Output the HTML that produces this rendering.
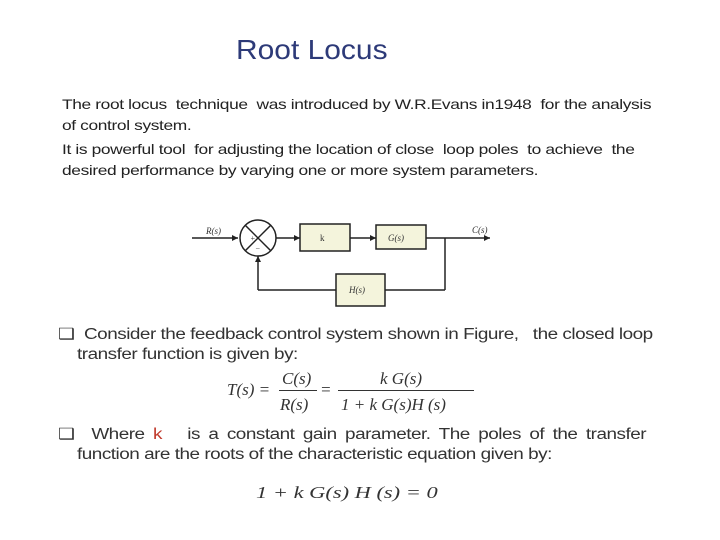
<!DOCTYPE html>
<html><head><style>
body{margin:0;width:720px;height:540px;background:#fff;position:relative;overflow:hidden;font-family:"Liberation Sans",sans-serif}
.t{position:absolute;white-space:nowrap;transform-origin:0 0}
.p{font-size:14px;color:#222;letter-spacing:-0.3px;transform:scaleX(1.24)}
.b{font-size:15.5px;color:#333;letter-spacing:-0.4px;transform:scaleX(1.22)}
.m{font-family:"Liberation Serif",serif;font-style:italic;color:#333;font-size:17px}
</style></head><body>
<div class="t" style="left:236px;top:34px;font-size:28px;color:#2d3a78;transform:scaleX(1.07)">Root Locus</div>
<div class="t p" style="left:62px;top:96px">The root locus &nbsp;technique &nbsp;was introduced by W.R.Evans in1948 &nbsp;for the analysis</div>
<div class="t p" style="left:62px;top:117px">of control system.</div>
<div class="t p" style="left:62px;top:141px">It is powerful tool &nbsp;for adjusting the location of close &nbsp;loop poles &nbsp;to achieve &nbsp;the</div>
<div class="t p" style="left:62px;top:162px">desired performance by varying one or more system parameters.</div>
<svg width="720" height="540" style="position:absolute;left:0;top:0" font-family="Liberation Serif" font-style="italic" font-size="9" fill="#333">
<g stroke="#222" stroke-width="1.5" fill="none">
<line x1="192" y1="238" x2="238" y2="238"/>
<circle cx="258" cy="238" r="18" fill="#fff"/>
<line x1="245" y1="225" x2="271" y2="251"/><line x1="271" y1="225" x2="245" y2="251"/>
<line x1="276" y1="238" x2="300" y2="238"/>
<rect x="300" y="224" width="50" height="27" fill="#f4f4dc"/>
<line x1="350" y1="238" x2="376" y2="238"/>
<rect x="376" y="225" width="50" height="24" fill="#f4f4dc"/>
<line x1="426" y1="238" x2="490" y2="238"/>
<line x1="445" y1="238" x2="445" y2="290"/>
<line x1="445" y1="290" x2="385" y2="290"/>
<rect x="336" y="274" width="49" height="32" fill="#f4f4dc"/>
<line x1="336" y1="290" x2="258" y2="290"/>
<line x1="258" y1="290" x2="258" y2="256"/>
</g>
<g fill="#222"><polygon points="238,238 232,235 232,241"/><polygon points="300,238 294,235 294,241"/><polygon points="376,238 370,235 370,241"/><polygon points="490,238 484,235 484,241"/><polygon points="258,256 255,262 261,262"/></g>
<text x="206" y="234">R(s)</text><text x="320" y="241" font-style="normal">k</text><text x="388" y="241">G(s)</text><text x="472" y="233">C(s)</text><text x="349" y="293">H(s)</text>
<text x="250" y="241" font-size="8">+</text><text x="255" y="251" font-size="8">−</text>
</svg>
<div class="t b" style="left:58px;top:325px">❑ &nbsp;Consider the feedback control system shown in Figure, &nbsp;&nbsp;the closed loop</div>
<div class="t b" style="left:77px;top:346px">transfer function is given by:</div>
<div class="t m" style="left:227px;top:380px">T(s) =</div>
<div class="t m" style="left:282px;top:369px">C(s)</div>
<div style="position:absolute;left:279px;top:390px;width:38px;border-top:1px solid #333"></div>
<div class="t m" style="left:280px;top:395px">R(s)</div>
<div class="t m" style="left:320px;top:380px">=</div>
<div class="t m" style="left:380px;top:369px">k G(s)</div>
<div style="position:absolute;left:338px;top:390px;width:136px;border-top:1px solid #333"></div>
<div class="t m" style="left:341px;top:395px">1 + k G(s)H (s)</div>
<div class="t b" style="left:58px;top:425px;word-spacing:3px">❑ &nbsp;Where <span style="color:#c0392b">k</span> &nbsp;&nbsp;is a constant gain parameter. The poles of the transfer</div>
<div class="t b" style="left:77px;top:446px">function are the roots of the characteristic equation given by:</div>
<div class="t m" style="left:256px;top:483px;transform:scaleX(1.32)">1 + k G(s) H (s) = 0</div>
</body></html>
